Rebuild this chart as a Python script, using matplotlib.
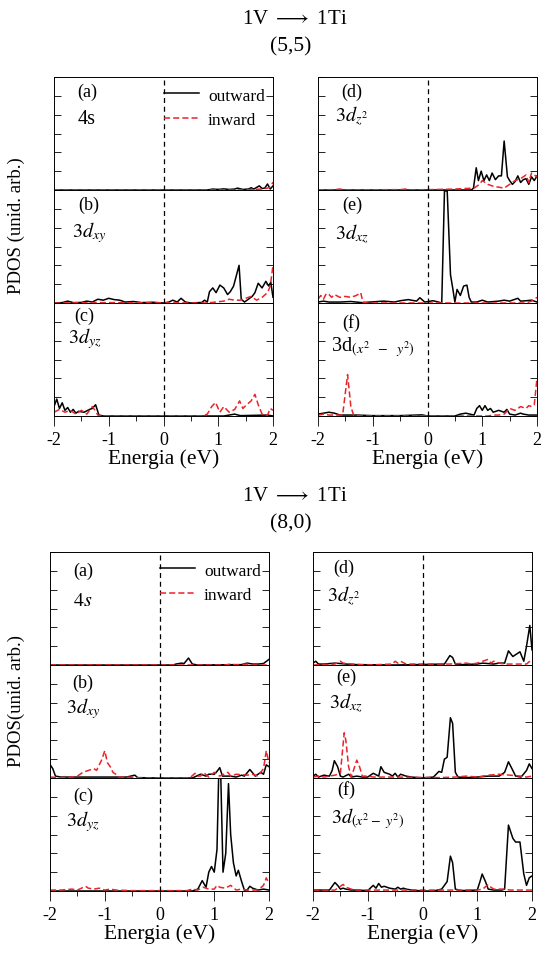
import matplotlib
matplotlib.use("Agg")
import matplotlib.pyplot as plt
from matplotlib.ticker import MultipleLocator

plt.rcParams['font.family'] = ['Liberation Serif', 'DejaVu Serif']
plt.rcParams['mathtext.fontset'] = 'stix'
plt.rcParams['axes.unicode_minus'] = False

# (energy eV, PDOS arb. units) -- (5,5) tube
s55_out = [(-2, 0), (0.8, 0), (0.9, 0.05), (1.0, 0.03), (1.1, 0.06), (1.2, 0.03), (1.3, 0.05), (1.35, 0.1),
           (1.45, 0.03), (1.55, 0.05), (1.6, 0.12), (1.65, 0.05), (1.75, 0.22), (1.8, 0.08), (1.85, 0.1),
           (1.9, 0.32), (1.95, 0.05), (2.0, 0.22)]
s55_in = [(-2, 0), (1.5, 0), (1.6, 0.03), (1.8, 0.05), (1.9, 0.1), (1.95, 0.15), (2.0, 0.42)]

xy55_out = [(-2, 0), (-1.85, 0.02), (-1.75, 0.1), (-1.65, 0.02), (-1.5, 0.03), (-1.4, 0.1), (-1.3, 0.05),
            (-1.2, 0.2), (-1.1, 0.15), (-1.0, 0.25), (-0.9, 0.18), (-0.8, 0.15), (-0.7, 0.05), (-0.55, 0.08),
            (-0.4, 0.02), (-0.2, 0.04), (0, 0), (0.1, 0.05), (0.17, 0.15), (0.25, 0.05), (0.32, 0.25),
            (0.4, 0.05), (0.5, 0), (0.7, 0.03), (0.75, 0.15), (0.8, 0.05), (0.84, 0.6), (0.9, 0.8),
            (0.96, 0.55), (1.03, 0.95), (1.1, 0.8), (1.17, 0.45), (1.22, 0.6), (1.28, 0.9), (1.38, 2.0),
            (1.42, 0.2), (1.48, 0.05), (1.55, 0.2), (1.62, 0.35), (1.67, 0.55), (1.73, 1.05), (1.8, 0.8),
            (1.87, 1.15), (1.92, 0.9), (1.96, 1.1), (2.0, 0.3)]
xy55_in = [(-2, 0), (-1.2, 0.02), (-1.0, 0.02), (0.8, 0), (0.95, 0.05), (1.1, 0.1), (1.2, 0.2), (1.3, 0.15),
           (1.4, 0.15), (1.5, 0.25), (1.6, 0.35), (1.7, 0.15), (1.8, 0.3), (1.9, 0.55), (1.95, 0.9), (2.0, 2.0)]

yz55_out = [(-2, 0.5), (-1.95, 0.9), (-1.9, 0.4), (-1.85, 0.7), (-1.8, 0.3), (-1.75, 0.45), (-1.7, 0.2),
            (-1.65, 0.35), (-1.6, 0.15), (-1.55, 0.25), (-1.45, 0.2), (-1.35, 0.35), (-1.3, 0.4),
            (-1.24, 0.6), (-1.18, 0.05), (-1.1, 0), (1.1, 0), (1.3, 0.1), (1.4, 0.02), (1.9, 0.05), (2.0, 0)]
yz55_in = [(-2, 0.2), (-1.9, 0.35), (-1.8, 0.2), (-1.7, 0.3), (-1.6, 0.1), (-1.5, 0.3), (-1.4, 0.1),
           (-1.3, 0.5), (-1.25, 0.3), (-1.2, 0.05), (-1.1, 0), (0.7, 0), (0.8, 0.1), (0.88, 0.5), (0.95, 0.72),
           (1.03, 0.2), (1.1, 0.5), (1.2, 0.2), (1.3, 0.35), (1.39, 0.8), (1.45, 0.4), (1.52, 0.6), (1.6, 0.8),
           (1.67, 1.15), (1.73, 0.6), (1.8, 0.1), (1.9, 0.05), (1.95, 0.4), (2.0, 0.3)]

z2_55_out = [(-2, 0), (0.8, 0), (0.84, 0.1), (0.89, 1.18), (0.93, 0.5), (0.98, 1.0), (1.03, 0.5), (1.08, 0.8),
             (1.13, 0.5), (1.18, 0.9), (1.24, 0.55), (1.3, 0.75), (1.35, 0.75), (1.4, 2.6), (1.46, 0.7),
             (1.5, 0.5), (1.55, 0.3), (1.6, 0.45), (1.65, 0.75), (1.7, 0.4), (1.75, 0.55), (1.8, 0.6),
             (1.85, 0.3), (1.9, 0.7), (1.95, 0.5), (2.0, 0.75)]
z2_55_in = [(-2, 0), (-1.7, 0.02), (-1.6, 0.05), (-1.5, 0), (-0.5, 0.02), (-0.4, 0.05), (-0.3, 0), (0.5, 0.05),
            (0.7, 0.08), (0.85, 0.1), (0.95, 0.3), (1.0, 0.5), (1.1, 0.3), (1.2, 0.2), (1.3, 0.15), (1.4, 0.1),
            (1.5, 0.3), (1.6, 0.5), (1.7, 0.6), (1.8, 0.8), (1.85, 0.4), (1.9, 0.9), (2.0, 0.7)]

xz55_out = [(-2, 0.05), (-1.9, 0.1), (-1.8, 0.05), (-1.6, 0.05), (-1.4, 0.08), (-1.2, 0.02), (-0.8, 0.1),
            (-0.6, 0.05), (-0.5, 0.12), (-0.35, 0.18), (-0.2, 0.1), (-0.14, 0.28), (-0.05, 0.05), (0.1, 0.12),
            (0.2, 0.05), (0.26, 0.0), (0.31, 5.95), (0.36, 5.95), (0.42, 1.5), (0.46, 0.8), (0.5, 0.05),
            (0.54, 0.72), (0.6, 0.4), (0.66, 0.9), (0.72, 0.95), (0.76, 0.3), (0.8, 0.05), (0.9, 0.05),
            (1.0, 0.15), (1.1, 0.05), (1.3, 0.1), (1.4, 0.15), (1.5, 0.1), (1.65, 0.25), (1.7, 0.1),
            (1.8, 0.12), (1.9, 0.15), (2.0, 0.05)]
xz55_in = [(-2, 0.2), (-1.95, 0.4), (-1.9, 0.2), (-1.85, 0.5), (-1.8, 0.45), (-1.75, 0.3), (-1.7, 0.45),
           (-1.6, 0.3), (-1.5, 0.35), (-1.4, 0.3), (-1.3, 0.4), (-1.22, 0.55), (-1.18, 0.05), (-1.1, 0),
           (1.8, 0), (1.9, 0.1), (2.0, 0.3)]

x2y2_55_out = [(-2, 0.1), (-1.9, 0.15), (-1.8, 0.2), (-1.7, 0.15), (-1.6, 0.05), (-1.5, 0.05), (-1.3, 0.05),
               (-1.0, 0.02), (-0.5, 0.02), (-0.1, 0.06), (0, 0), (0.5, 0), (0.6, 0.1), (0.7, 0.15), (0.85, 0.05),
               (0.9, 0.4), (0.95, 0.55), (1.0, 0.3), (1.05, 0.55), (1.1, 0.3), (1.15, 0.4), (1.2, 0.2),
               (1.3, 0.3), (1.4, 0.2), (1.45, 0.35), (1.5, 0.1), (1.6, 0.05), (1.7, 0.15), (1.75, 0.1),
               (1.85, 0.05), (2.0, 0.05)]
x2y2_55_in = [(-2, 0.05), (-1.9, 0.1), (-1.8, 0.05), (-1.55, 0.05), (-1.46, 2.2), (-1.4, 0.5), (-1.35, 0.05),
              (-1.2, 0), (1.1, 0), (1.2, 0.05), (1.3, 0.05), (1.4, 0.1), (1.5, 0.4), (1.6, 0.3), (1.7, 0.5),
              (1.8, 0.4), (1.85, 0.55), (1.9, 0.5), (1.95, 0.6), (2.0, 2.0)]

# (8,0) tube
s80_out = [(-2, 0), (0.25, 0), (0.3, 0.05), (0.4, 0.1), (0.45, 0.08), (0.53, 0.37), (0.6, 0.05), (0.7, 0),
           (1.5, 0.02), (1.6, 0.1), (1.7, 0.05), (1.8, 0.05), (1.9, 0.08), (2.0, 0.3)]
s80_in = [(-2, 0), (1.2, 0), (1.3, 0.05), (1.4, 0), (1.6, 0.05), (1.7, 0), (2.0, 0)]

xy80_out = [(-2, 0.72), (-1.95, 0.5), (-1.9, 0.1), (-1.8, 0.05), (-1.5, 0.05), (-1.2, 0.05), (-0.8, 0.05),
            (-0.6, 0.05), (-0.45, 0.15), (-0.4, 0.02), (0, 0), (0.6, 0), (0.75, 0.2), (0.85, 0.1), (0.9, 0.2),
            (1.0, 0.2), (1.05, 0.35), (1.1, 0.55), (1.15, 0.1), (1.3, 0.1), (1.4, 0.05), (1.5, 0.15),
            (1.55, 0.1), (1.65, 0.45), (1.75, 0.1), (1.85, 0.3), (1.9, 0.2), (1.95, 0.7), (2.0, 0.6)]
xy80_in = [(-2, 0.05), (-1.8, 0.02), (-1.6, 0.05), (-1.5, 0.1), (-1.4, 0.3), (-1.3, 0.4), (-1.2, 0.5),
           (-1.15, 0.4), (-1.05, 1.0), (-1.0, 1.45), (-0.95, 0.8), (-0.9, 0.6), (-0.85, 0.3), (-0.8, 0.2),
           (-0.75, 0.05), (-0.6, 0.05), (-0.3, 0), (0.55, 0), (0.65, 0.25), (0.7, 0.1), (0.75, 0.1), (0.8, 0.3),
           (0.9, 0.05), (1.0, 0.3), (1.1, 0.1), (1.25, 0.3), (1.3, 0.1), (1.4, 0.2), (1.6, 0.15), (1.7, 0.2),
           (1.8, 0.1), (1.9, 0.5), (1.95, 1.45), (2.0, 0.8)]

yz80_out = [(-2, 0), (0.6, 0), (0.7, 0.1), (0.78, 0.55), (0.85, 0.2), (0.9, 1.0), (0.95, 1.3), (1.0, 1.0),
            (1.05, 2.2), (1.08, 6.0), (1.12, 6.0), (1.16, 1.0), (1.21, 2.0), (1.26, 5.7), (1.3, 3.0),
            (1.35, 1.5), (1.4, 0.8), (1.44, 1.1), (1.5, 0.5), (1.55, 0.05), (1.6, 0.05), (1.65, 0.25),
            (1.7, 0.15), (1.8, 0.05), (1.9, 0.1), (2.0, 0.05)]
yz80_in = [(-2, 0.05), (-1.8, 0.05), (-1.6, 0.1), (-1.5, 0.05), (-1.35, 0.25), (-1.3, 0.15), (-1.2, 0.1),
           (-1.1, 0.15), (-1.0, 0.05), (-0.9, 0.1), (-0.8, 0.05), (-0.5, 0.02), (0.5, 0.02), (0.6, 0.1),
           (0.7, 0.05), (0.8, 0.2), (0.9, 0.1), (1.0, 0.1), (1.05, 0.3), (1.1, 0.2), (1.2, 0.15), (1.3, 0.3),
           (1.4, 0.05), (1.5, 0.1), (1.6, 0.05), (1.8, 0.05), (1.9, 0.3), (1.95, 0.7), (2.0, 0.4)]

z2_80_out = [(-2, 0.1), (-1.95, 0.2), (-1.9, 0.05), (-1.8, 0.05), (-1.6, 0.1), (-1.4, 0.05), (-1.2, 0.02),
             (-0.5, 0), (0.4, 0.05), (0.5, 0.5), (0.55, 0.4), (0.6, 0.05), (0.7, 0.02), (1.0, 0.05), (1.1, 0.1),
             (1.3, 0.05), (1.4, 0.1), (1.5, 0.1), (1.57, 0.75), (1.65, 0.45), (1.78, 0.7), (1.85, 0.2),
             (1.9, 1.0), (1.96, 2.1), (2.0, 0.8)]
z2_80_in = [(-2, 0), (-1.6, 0.05), (-1.5, 0.2), (-1.45, 0.1), (-1.3, 0.05), (-1.0, 0), (-0.55, 0.05),
            (-0.5, 0.2), (-0.45, 0.1), (-0.4, 0.2), (-0.3, 0.05), (0.5, 0.05), (0.8, 0.1), (0.9, 0.05),
            (1.0, 0.1), (1.1, 0.2), (1.2, 0.3), (1.25, 0.1), (1.3, 0.2), (1.4, 0.1), (1.5, 0.05), (1.9, 0.05),
            (2.0, 0.3)]

xz80_out = [(-2, 0.1), (-1.95, 0.2), (-1.9, 0.05), (-1.8, 0.15), (-1.7, 0.1), (-1.65, 0.4), (-1.61, 0.92),
            (-1.55, 0.6), (-1.5, 0.1), (-1.45, 0.05), (-1.35, 0.2), (-1.3, 0.05), (-1.2, 0.1), (-1.1, 0.05),
            (-1.0, 0.05), (-0.9, 0.25), (-0.8, 0.1), (-0.76, 0.6), (-0.7, 0.3), (-0.6, 0.2), (-0.55, 0.1),
            (-0.5, 0.25), (-0.45, 0.05), (-0.4, 0.2), (-0.3, 0.1), (-0.2, 0.05), (0, 0), (0.2, 0.05),
            (0.3, 0.35), (0.35, 0.3), (0.4, 1.0), (0.45, 1.1), (0.51, 3.2), (0.55, 2.9), (0.6, 0.3),
            (0.65, 0.05), (0.8, 0.02), (1.0, 0.05), (1.2, 0.1), (1.4, 0.1), (1.5, 0.3), (1.57, 0.86),
            (1.65, 0.4), (1.7, 0.1), (1.8, 0.05), (1.9, 0.4), (1.95, 0.75), (2.0, 0.5)]
xz80_in = [(-2, 0.05), (-1.9, 0.1), (-1.8, 0.05), (-1.7, 0.1), (-1.6, 0.15), (-1.5, 0.25), (-1.43, 2.4),
           (-1.4, 2.0), (-1.35, 0.6), (-1.3, 0.05), (-1.25, 0.5), (-1.2, 0.95), (-1.15, 0.6), (-1.1, 0.1),
           (-1.0, 0.1), (-0.9, 0.05), (-0.7, 0.05), (-0.5, 0.05), (0.3, 0.02), (0.6, 0.05), (0.8, 0.1),
           (1.0, 0.05), (1.2, 0.15), (1.4, 0.2), (1.6, 0.15), (1.8, 0.1), (1.9, 0.05), (2.0, 0.1)]

x2y2_80_out = [(-2, 0.05), (-1.7, 0.05), (-1.6, 0.45), (-1.55, 0.3), (-1.5, 0.1), (-1.45, 0.15), (-1.4, 0.1),
               (-1.3, 0.05), (-1.2, 0.05), (-1.0, 0.02), (-0.9, 0.3), (-0.85, 0.15), (-0.8, 0.4), (-0.75, 0.2),
               (-0.7, 0.25), (-0.6, 0.15), (-0.5, 0.1), (-0.45, 0.2), (-0.4, 0.1), (-0.35, 0.15), (-0.3, 0.1),
               (-0.2, 0.05), (0, 0), (0.2, 0), (0.35, 0.1), (0.4, 0.3), (0.45, 0.5), (0.51, 1.85), (0.55, 1.5),
               (0.6, 0.1), (0.7, 0.02), (1.0, 0.05), (1.05, 0.5), (1.09, 0.9), (1.15, 0.5), (1.2, 0.1),
               (1.3, 0.05), (1.45, 0.05), (1.5, 0.1), (1.57, 3.5), (1.65, 2.8), (1.7, 2.6), (1.78, 2.6),
               (1.85, 0.9), (1.9, 0.3), (1.95, 0.7), (2.0, 0.8)]
x2y2_80_in = [(-2, 0.05), (-1.8, 0.05), (-1.6, 0.05), (-1.45, 0.35), (-1.4, 0.2), (-1.3, 0.1), (-1.2, 0.05),
              (1.0, 0.05), (1.1, 0.1), (1.2, 0.35), (1.25, 0.2), (1.3, 0.1), (1.5, 0.1), (1.6, 0.05),
              (1.8, 0.05), (2.0, 0.05)]

labels_55 = ['4s', r'$3d_{xy}$', r'$3d_{yz}$', r'$3d_{z^2}$', r'$3d_{xz}$', r'3d$_{(x^2\ \ -\ \ y^2)}$']
labels_80 = [r'$4s$', r'$3d_{xy}$', r'$3d_{yz}$', r'$3d_{z^2}$', r'$3d_{xz}$', r'$3d_{(x^2 -\ y^2)}$']
letters = ['(a)', '(b)', '(c)', '(d)', '(e)', '(f)']

W, H = 541, 970
fig = plt.figure(figsize=(W / 100, H / 100), dpi=100)


def px_axes(x0, x1, top, bot):
    return fig.add_axes([x0 / W, 1 - bot / H, (x1 - x0) / W, (bot - top) / H])


def draw_group(cols, tops, series, labels, letter_y, label_y, label_x, ylab, title_y, sub):
    rows_px = [(tops + i * 113, tops + (i + 1) * 113) for i in range(3)]
    k = 0
    for c, (x0, x1) in enumerate(cols):
        for r, (t, b) in enumerate(rows_px):
            ax = px_axes(x0, x1, t, b)
            out, inw = series[k]
            ax.plot([p[0] for p in out], [p[1] for p in out], color='black', lw=1.1, label='outward')
            ax.plot([p[0] for p in inw], [p[1] for p in inw], color='#e8252a', lw=1.1, ls=(0, (4, 2)),
                    label='inward')
            ax.axvline(0, color='black', lw=0.9, ls=(0, (4, 3)))
            ax.set_xlim(-2, 2)
            ax.set_ylim(0, 6)
            ax.set_yticks(range(0, 7))
            ax.set_yticklabels([])
            ax.set_xticks([-2, -1, 0, 1, 2])
            ax.xaxis.set_minor_locator(MultipleLocator(0.5))
            ax.tick_params(axis='y', direction='in', left=True, right=True, length=5, width=0.6)
            ax.tick_params(axis='x', which='major', direction='out', length=7, width=0.6, labelsize=13, pad=4)
            ax.tick_params(axis='x', which='minor', direction='out', length=3.5, width=0.6)
            if r < 2:
                ax.tick_params(axis='x', which='both', labelbottom=False, bottom=False)
            else:
                ax.set_xlabel('Energia (eV)', fontsize=15.5, labelpad=0)
            for s in ax.spines.values():
                s.set_linewidth(0.7)
            ax.text(label_x[k], letter_y[k], letters[k], transform=ax.transAxes, ha='center', va='center',
                    fontsize=13)
            ax.text(label_x[k] + (0.1 if k == 5 else 0), label_y[k], labels[k], transform=ax.transAxes,
                    ha='center', va='center', fontsize=14.5)
            if k == 0:
                ax.legend(loc='upper right', bbox_to_anchor=(1.01, 1.0), frameon=False, fontsize=12.5,
                          handlelength=2.0, handletextpad=0.5, labelspacing=0.5, borderaxespad=0.2)
            k += 1
    fig.text(16 / W, 1 - (tops + 148) / H, ylab, rotation=90, ha='center', va='center', fontsize=13.5)
    fig.text(295 / W, 1 - title_y / H, r'1V $\longrightarrow$ 1Ti', ha='center', va='center', fontsize=15)
    fig.text(291 / W, 1 - (title_y + 27) / H, sub, ha='center', va='center', fontsize=15.5)


series_55 = [(s55_out, s55_in), (xy55_out, xy55_in), (yz55_out, yz55_in),
             (z2_55_out, z2_55_in), (xz55_out, xz55_in), (x2y2_55_out, x2y2_55_in)]
series_80 = [(s80_out, s80_in), (xy80_out, xy80_in), (yz80_out, yz80_in),
             (z2_80_out, z2_80_in), (xz80_out, xz80_in), (x2y2_80_out, x2y2_80_in)]

draw_group([(54, 273), (318, 537)], 78, series_55, labels_55,
           [0.87, 0.87, 0.89, 0.87, 0.87, 0.83], [0.63, 0.63, 0.69, 0.66, 0.62, 0.62],
           [0.15, 0.16, 0.14, 0.155, 0.155, 0.15], 'PDOS (unid. arb.)', 20, '(5,5)')
draw_group([(50, 269), (313, 532)], 553, series_80, labels_80,
           [0.84, 0.85, 0.85, 0.86, 0.90, 0.90], [0.57, 0.62, 0.62, 0.62, 0.67, 0.65],
           [0.15, 0.15, 0.15, 0.14, 0.15, 0.15], 'PDOS(unid. arb.)', 497, '(8,0)')

fig.savefig('out.png', dpi=100)
